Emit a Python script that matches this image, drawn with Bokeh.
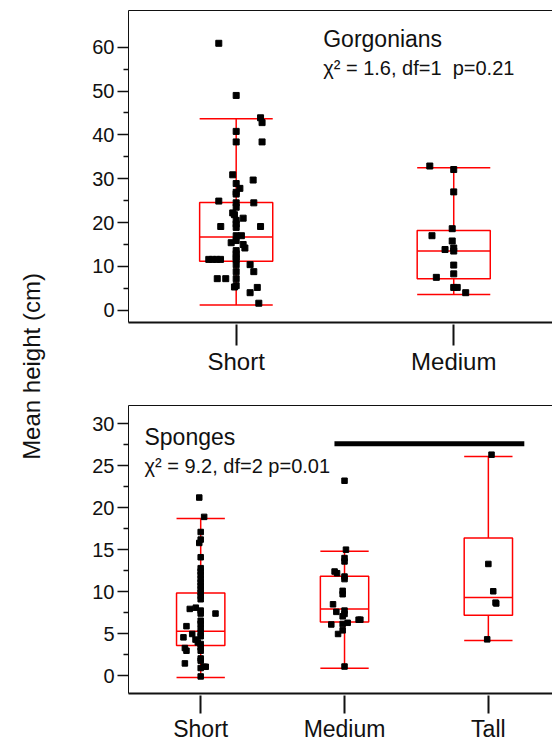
import math
from bokeh.plotting import figure
from bokeh.models import Range1d, FixedTicker, LinearAxis, Label
from bokeh.layouts import row, column
from bokeh.embed import file_html
from bokeh.resources import INLINE

FONT = "Liberation Sans"
RED = "#ff0000"
INK = "#111111"

# ---------------- Gorgonians (top panel) ----------------
g_categories = ["Short", "Medium"]
g_positions = [1, 2]
g_low = [1.2, 3.6]
g_q1 = [11.2, 7.2]
g_median = [16.7, 13.5]
g_q3 = [24.6, 18.2]
g_high = [43.7, 32.5]
g_short_dx = [-0.080, 0.0, 0.112, 0.119, 0.0, 0.0, 0.119, -0.016, 0.078, 0.0,
              0.017, 0.0, 0.0, -0.080, 0.081, 0.0, 0.0, -0.016, -0.008, 0.032,
              0.0, 0.0, 0.0, -0.071, 0.112, 0.0, 0.024, 0.0, -0.023, 0.032,
              0.040, 0.0, 0.0, 0.0, -0.126, -0.109, -0.090, -0.072, 0.0, 0.0,
              0.064, 0.081, 0.0, -0.087, -0.048, 0.0, 0.0, -0.008, 0.097, 0.064,
              0.104]
g_short_y = [60.9, 49.0, 43.9, 42.8, 40.8, 38.4, 38.4, 30.9, 29.7, 28.9,
             27.8, 26.9, 26.5, 24.9, 24.5, 24.5, 23.5, 22.2, 21.8, 21.0,
             20.5, 19.7, 18.9, 19.1, 19.1, 17.0, 17.0, 15.9, 15.4, 15.0,
             14.2, 13.6, 12.9, 12.1, 11.6, 11.6, 11.6, 11.6, 11.6, 10.4,
             10.4, 8.8, 8.8, 7.2, 7.2, 7.2, 5.6, 5.3, 5.2, 4.0,
             1.6]
g_medium_dx = [-0.11, 0.0, 0.0, -0.007, -0.10, -0.007, -0.04, 0.0, 0.0, 0.0,
               0.0, -0.08, 0.0, 0.016, 0.055]
g_medium_y = [32.9, 32.1, 27.0, 18.6, 17.0, 15.8, 13.85, 14.2, 13.5, 10.3,
              8.3, 7.5, 5.2, 5.2, 4.0]
g_yticks = [0, 10, 20, 30, 40, 50, 60]
g_yminor = [5, 15, 25, 35, 45, 55]
g_title = "Gorgonians"
g_stats = "\u03c7\u00b2 = 1.6, df=1\u00a0 p=0.21"

# ---------------- Sponges (bottom panel) ----------------
s_categories = ["Short", "Medium", "Tall"]
s_positions = [1, 2, 3]
s_low = [-0.2, 0.9, 4.2]
s_q1 = [3.6, 6.4, 7.2]
s_median = [5.3, 7.95, 9.3]
s_q3 = [9.86, 11.84, 16.4]
s_high = [18.7, 14.8, 26.07]
s_short_dx = [-0.010, 0.024, 0.0, 0.0, -0.010, 0.0, 0.0, 0.0, 0.0, 0.0,
              0.0, 0.0, 0.0, 0.0, 0.0, 0.0, -0.076, -0.034, 0.103, 0.0,
              0.0, 0.0, 0.0, -0.099, 0.0, 0.0, 0.0, -0.059, -0.120, -0.036,
              -0.020, 0.0, 0.0, 0.0, -0.110, -0.099, 0.0, 0.0, -0.110, 0.022,
              0.035, 0.0, 0.0]
s_short_y = [21.2, 18.9, 17.1, 16.2, 15.8, 14.1, 12.8, 12.4, 12.0, 11.5,
             11.1, 10.7, 10.3, 9.9, 9.5, 9.1, 7.95, 8.1, 7.4, 7.75,
             7.4, 6.55, 6.2, 5.9, 5.6, 5.1, 4.7, 4.97, 4.57, 4.3,
             3.97, 3.78, 3.37, 2.98, 3.3, 2.98, 2.06, 1.8, 1.47, 1.07,
             1.07, 0.92, -0.08]
s_medium_dx = [0.0, 0.01, 0.0, 0.0, -0.069, -0.052, 0.0, 0.0, -0.013, -0.013,
               -0.08, 0.0, -0.057, 0.0, -0.013, 0.098, 0.11, 0.022, -0.013, -0.092,
               -0.013, -0.045, 0.0]
s_medium_y = [23.2, 15.0, 14.0, 13.6, 12.4, 12.2, 11.8, 11.5, 10.1, 9.7,
              8.5, 7.75, 7.6, 7.35, 7.07, 6.67, 6.67, 6.3, 6.16, 6.1,
              5.4, 4.97, 1.1]
s_tall_dx = [0.022, 0.0, 0.034, 0.05, 0.055, -0.008]
s_tall_y = [26.3, 13.3, 10.05, 8.7, 8.6, 4.33]
s_yticks = [0, 5, 10, 15, 20, 25, 30]
s_yminor = [2.5, 7.5, 12.5, 17.5, 22.5, 27.5]
s_title = "Sponges"
s_stats = "\u03c7\u00b2 = 9.2, df=2 p=0.01"
s_sig_x = [1.93, 3.25]
s_sig_y = 27.6

y_label = "Mean height (cm)"
BOX_HALF = 0.168


def make_panel(height, border_top, border_bottom, xr, yr, positions, cats,
               low, q1, med, q3, high, groups, yticks, yminor, tick_out,
               label_size, marker_size):
    p = figure(width=484, height=height, x_range=Range1d(*xr), y_range=Range1d(*yr),
               output_backend="svg", toolbar_location=None,
               x_axis_location=None, y_axis_location=None,
               min_border_left=60, min_border_right=0,
               min_border_top=border_top, min_border_bottom=border_bottom)
    p.grid.visible = False
    p.outline_line_color = None
    p.background_fill_color = "white"
    p.border_fill_color = "white"

    left = LinearAxis(ticker=FixedTicker(ticks=yticks, minor_ticks=yminor))
    left.axis_line_color = INK
    left.axis_line_width = 1
    left.major_tick_line_color = INK
    left.major_tick_line_width = 1.5
    left.minor_tick_line_color = INK
    left.minor_tick_line_width = 1.5
    left.major_tick_in = 0
    left.major_tick_out = 11
    left.minor_tick_in = 0
    left.minor_tick_out = 5
    left.major_label_standoff = 3
    left.major_label_text_font = FONT
    left.major_label_text_font_size = "20px"
    left.major_label_text_color = INK
    p.add_layout(left, "left")

    bottom = LinearAxis(ticker=FixedTicker(ticks=positions),
                        major_label_overrides={pos: c for pos, c in zip(positions, cats)})
    bottom.axis_line_color = INK
    bottom.axis_line_width = 2
    bottom.major_tick_line_color = INK
    bottom.major_tick_line_width = 2
    bottom.major_tick_in = -2
    bottom.major_tick_out = tick_out
    bottom.minor_tick_out = 0
    bottom.minor_tick_in = 0
    bottom.major_label_standoff = 2
    bottom.major_label_text_font = FONT
    bottom.major_label_text_font_size = label_size
    bottom.major_label_text_color = INK
    p.add_layout(bottom, "below")

    top = LinearAxis(ticker=FixedTicker(ticks=[]))
    top.axis_line_color = INK
    top.axis_line_width = 1
    top.major_tick_out = 0
    top.major_tick_in = 0
    top.minor_tick_out = 0
    top.minor_tick_in = 0
    top.major_label_standoff = 0
    top.major_label_text_font_size = "0px"
    p.add_layout(top, "above")

    lefts = [x - BOX_HALF for x in positions]
    rights = [x + BOX_HALF for x in positions]
    # whiskers
    p.segment(x0=positions, y0=q3, x1=positions, y1=high, line_color=RED, line_width=1.5)
    p.segment(x0=positions, y0=low, x1=positions, y1=q1, line_color=RED, line_width=1.5)
    p.segment(x0=lefts, y0=high, x1=rights, y1=high, line_color=RED, line_width=1.5)
    p.segment(x0=lefts, y0=low, x1=rights, y1=low, line_color=RED, line_width=1.5)
    # boxes
    p.quad(left=lefts, right=rights, bottom=q1, top=q3, fill_color=None,
           line_color=RED, line_width=1.5)
    p.segment(x0=lefts, y0=med, x1=rights, y1=med, line_color=RED, line_width=1.5)
    # points
    for pos, (dx, ys) in zip(positions, groups):
        xs = [pos + d for d in dx]
        p.scatter(xs, ys, marker="square", size=marker_size, fill_color="black",
                  line_color="black")
    return p


top_fig = make_panel(380, 10, 58, (0.505, 2.454), (-2.80, 68.38), g_positions,
                     g_categories, g_low, g_q1, g_median, g_q3, g_high,
                     [(g_short_dx, g_short_y), (g_medium_dx, g_medium_y)],
                     g_yticks, g_yminor, 23, "24px", 6)
top_fig.add_layout(Label(x=1.40, y=58.9, text=g_title, text_font=FONT,
                         text_font_size="23px", text_color=INK))
top_fig.add_layout(Label(x=1.40, y=52.8, text=g_stats, text_font=FONT,
                         text_font_size="20px", text_color=INK))

bot_fig = make_panel(364, 25, 51, (0.498, 3.446), (-2.11, 32.15), s_positions,
                     s_categories, s_low, s_q1, s_median, s_q3, s_high,
                     [(s_short_dx, s_short_y), (s_medium_dx, s_medium_y),
                      (s_tall_dx, s_tall_y)],
                     s_yticks, s_yminor, 20, "23px", 5.5)
bot_fig.segment(x0=[s_sig_x[0]], y0=[s_sig_y], x1=[s_sig_x[1]], y1=[s_sig_y],
                line_color="black", line_width=5)
bot_fig.add_layout(Label(x=0.609, y=26.9, text=s_title, text_font=FONT,
                         text_font_size="23px", text_color=INK))
bot_fig.add_layout(Label(x=0.609, y=23.6, text=s_stats, text_font=FONT,
                         text_font_size="20px", text_color=INK))

lab = figure(width=68, height=744, x_range=Range1d(0, 68), y_range=Range1d(0, 744),
             output_backend="svg", toolbar_location=None,
             x_axis_location=None, y_axis_location=None, min_border=0)
lab.grid.visible = False
lab.outline_line_color = None
lab.add_layout(Label(x=31, y=378, text=y_label, angle=math.pi / 2,
                     text_align="center", text_baseline="middle", text_font=FONT,
                     text_font_size="24px", text_color=INK))

layout = row(lab, column(top_fig, bot_fig))
open("out.html", "w").write(file_html(layout, INLINE))
